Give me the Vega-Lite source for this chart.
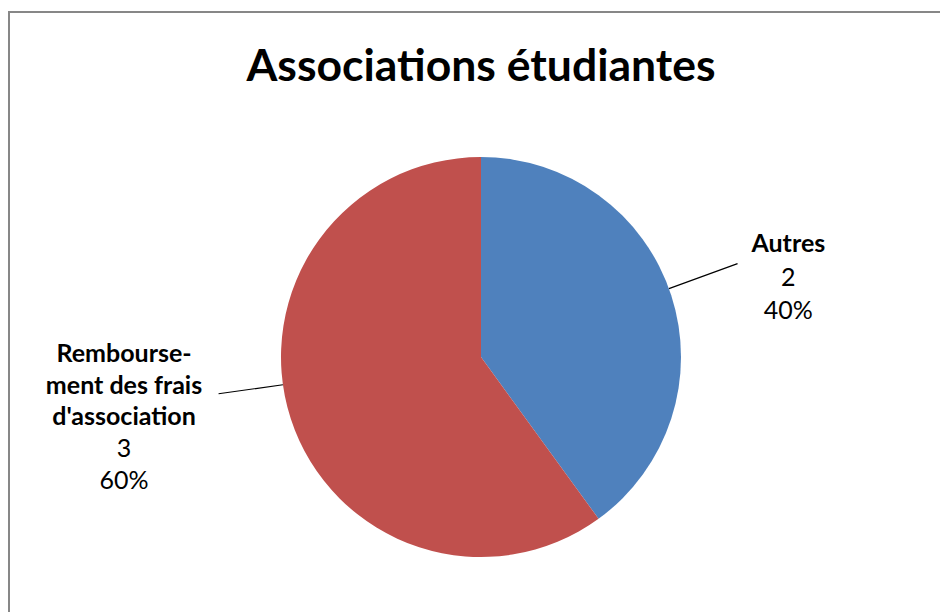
{
  "$schema": "https://vega.github.io/schema/vega-lite/v6.json",
  "width": 944,
  "height": 690,
  "autosize": {"type": "none"},
  "padding": {"left": 9, "top": 12, "right": -13, "bottom": -90},
  "background": "white",
  "title": {
    "text": "Associations étudiantes",
    "font": "Lato",
    "fontSize": 44.5,
    "fontWeight": "bold",
    "color": "black",
    "anchor": "middle",
    "frame": "group",
    "baseline": "alphabetic",
    "offset": 0,
    "dy": 114
  },
  "data": {
    "values": [
      {"category": "Autres", "label": "Autres", "value": 2},
      {"category": "Remboursement des frais d'association", "label": "Rembourse-\nment des frais\nd'association", "value": 3}
    ]
  },
  "transform": [
    {"joinaggregate": [{"op": "sum", "field": "value", "as": "total"}]},
    {"window": [{"op": "sum", "field": "value", "as": "cum"}], "sort": [{"field": "category", "order": "ascending"}]},
    {"calculate": "datum.cum - datum.value / 2", "as": "mid"},
    {"calculate": "datum.value + '\\n' + format(datum.value / datum.total, '.0%')", "as": "vtext"}
  ],
  "layer": [
    {
      "data": {"values": [{"frame": 1}]},
      "transform": [],
      "mark": {"type": "rect", "fill": null, "fillOpacity": 0, "stroke": "#878787", "strokeWidth": 2},
      "encoding": {}
    },
    {
      "mark": {"type": "arc", "outerRadius": 200},
      "encoding": {
        "theta": {"field": "value", "type": "quantitative", "stack": true},
        "order": {"field": "mid", "type": "quantitative"},
        "color": {
          "field": "category",
          "type": "nominal",
          "scale": {"domain": ["Autres", "Remboursement des frais d'association"], "range": ["#4F81BD", "#C0504D"]},
          "legend": null
        }
      }
    },
    {
      "transform": [{"filter": "datum.category === 'Autres'"}],
      "layer": [
        {
          "mark": {"type": "arc", "innerRadius": 200, "outerRadius": 273, "thetaOffset": -0.035, "theta2Offset": -0.035, "stroke": "black", "strokeWidth": 1.2, "fill": null, "fillOpacity": 0},
          "encoding": {
            "theta": {"field": "mid", "type": "quantitative", "stack": null},
            "theta2": {"field": "mid"}
          }
        },
        {
          "mark": {"type": "text", "radius": 320, "font": "Lato", "fontSize": 25, "fontWeight": "bold", "color": "black", "align": "center", "baseline": "middle", "dx": 3, "dy": -14},
          "encoding": {
            "theta": {"field": "mid", "type": "quantitative", "stack": null},
            "text": {"field": "label"}
          }
        },
        {
          "mark": {"type": "text", "radius": 320, "font": "Lato", "fontSize": 25, "color": "black", "align": "center", "baseline": "middle", "lineBreak": "\n", "lineHeight": 33, "dx": 3, "dy": 19.4},
          "encoding": {
            "theta": {"field": "mid", "type": "quantitative", "stack": null},
            "text": {"field": "vtext"}
          }
        }
      ]
    },
    {
      "transform": [{"filter": "datum.category !== 'Autres'"}],
      "layer": [
        {
          "mark": {"type": "arc", "innerRadius": 200, "outerRadius": 265, "thetaOffset": 0.175, "theta2Offset": 0.175, "stroke": "black", "strokeWidth": 1.2, "fill": null, "fillOpacity": 0},
          "encoding": {
            "theta": {"field": "mid", "type": "quantitative", "stack": null},
            "theta2": {"field": "mid"}
          }
        },
        {
          "mark": {"type": "text", "radius": 360, "font": "Lato", "fontSize": 25, "fontWeight": "bold", "color": "black", "align": "center", "baseline": "middle", "lineBreak": "\n", "lineHeight": 31.5, "dx": -14.6, "dy": -114},
          "encoding": {
            "theta": {"field": "mid", "type": "quantitative", "stack": null},
            "text": {"field": "label"}
          }
        },
        {
          "mark": {"type": "text", "radius": 360, "font": "Lato", "fontSize": 25, "color": "black", "align": "center", "baseline": "middle", "lineBreak": "\n", "lineHeight": 32, "dx": -14.6, "dy": -19.7},
          "encoding": {
            "theta": {"field": "mid", "type": "quantitative", "stack": null},
            "text": {"field": "vtext"}
          }
        }
      ]
    }
  ]
}
